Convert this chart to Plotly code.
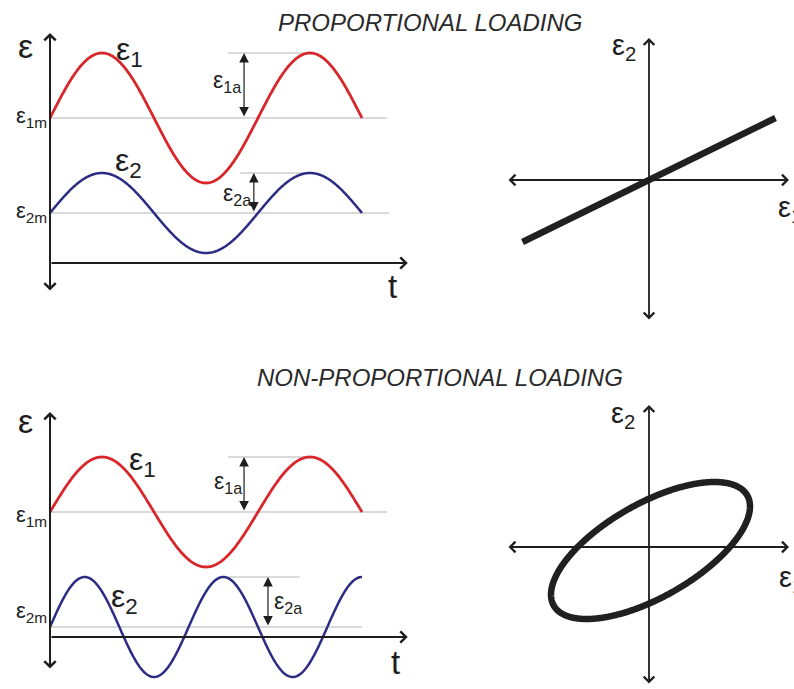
import numpy as np
import plotly.graph_objects as go

W, H = 794, 689

# ---- loading cases: mean / amplitude / frequency of the two strain signals ----
case_titles = ["PROPORTIONAL LOADING", "NON-PROPORTIONAL LOADING"]
eps1_mean = [2.9, 2.5]
eps1_amp = [1.3, 1.1]
eps2_mean = [1.0, 0.2]
eps2_amp = [0.8, 1.0]
eps2_freq = [1.0, 1.5]          # cycles of ε2 per cycle of ε1
eps1_cycles = 1.5               # number of ε1 cycles drawn

# ---- strain paths in the ε1-ε2 plane ----
prop_path_e1 = [-2.53, 2.53]
prop_path_e2 = [-1.24, 1.24]
ell_amp = [1.99, 1.37]          # half-ranges of ε1 and ε2
ell_phase_deg = 50              # phase lag between ε1 and ε2
ell_center = [0.03, -0.07]

# ---- colours / fonts ----
RED = "#d8262a"
BLUE = "#2c2c84"
INK = "#1e1e1e"
GRID = "#b4b4b4"
FONT = "Liberation Sans, Arial, sans-serif"

T_PX = 208.0    # pixels per ε1 cycle
E_PX = 50.0     # pixels per strain unit


def xdom(p0, p1):
    return [p0 / W, p1 / W]


def ydom(top, bottom):
    return [1 - bottom / H, 1 - top / H]


fig = go.Figure()

# panel boxes (pixels) and data origins
left_x_box = (0, 420)
left_t0_px = 50
left_boxes = [(28, 298, 263), (395, 689, 637)]       # top, bottom, origin row
right_x_box = (480, 794)
right_origin_x = 649
right_boxes = [(30, 330, 180), (395, 689, 547)]

layout_axes = {}
for i in range(2):
    # time-history panel
    xa = "xaxis" if i == 0 else "xaxis3"
    ya = "yaxis" if i == 0 else "yaxis3"
    top, bot, org = left_boxes[i]
    layout_axes[xa] = dict(domain=xdom(*left_x_box),
                           range=[(left_x_box[0] - left_t0_px) / T_PX,
                                  (left_x_box[1] - left_t0_px) / T_PX],
                           visible=False, fixedrange=True)
    layout_axes[ya] = dict(domain=ydom(top, bot),
                           range=[(org - bot) / E_PX, (org - top) / E_PX],
                           visible=False, fixedrange=True)
    # strain-path panel
    xa = "xaxis2" if i == 0 else "xaxis4"
    ya = "yaxis2" if i == 0 else "yaxis4"
    top, bot, org = right_boxes[i]
    layout_axes[xa] = dict(domain=xdom(*right_x_box),
                           range=[(right_x_box[0] - right_origin_x) / E_PX,
                                  (right_x_box[1] - right_origin_x) / E_PX],
                           visible=False, fixedrange=True)
    layout_axes[ya] = dict(domain=ydom(top, bot),
                           range=[(org - bot) / E_PX, (org - top) / E_PX],
                           visible=False, fixedrange=True)

# extents of the grey reference lines and positions of the amplitude markers
ref_extents = [
    dict(m1_end=1.62, a1=(0.856, 1.25), m2_end=1.63, a2=(0.913, 1.255), arr1=0.933, arr2=0.98),
    dict(m1_end=1.62, a1=(0.856, 1.25), m2_end=1.50, a2=(0.833, 1.20), arr1=0.933, arr2=1.048),
]
axis_extents = [(4.6, -0.58), (4.5, -0.66)]

annotations = []


def line(x, y, xr, yr, color, width):
    fig.add_trace(go.Scatter(x=x, y=y, xaxis=xr, yaxis=yr, mode="lines",
                             line=dict(color=color, width=width, simplify=False),
                             hoverinfo="skip", showlegend=False))


def arrow(xr, yr, x0, y0, x1, y1, head, side="end", width=2.0, size=1.0, color=INK):
    annotations.append(dict(x=x1, y=y1, ax=x0, ay=y0, xref=xr, yref=yr,
                            axref=xr, ayref=yr, text="", showarrow=True,
                            arrowhead=head, startarrowhead=head, arrowside=side,
                            arrowwidth=width, arrowsize=size, startarrowsize=size,
                            arrowcolor=color, standoff=0, startstandoff=0,
                            font=dict(size=1)))


def label(text, xr, yr, x, y, size, xanchor="center", color=INK):
    annotations.append(dict(x=x, y=y, xref=xr, yref=yr, text=text, showarrow=False,
                            xanchor=xanchor, yanchor="middle",
                            font=dict(family=FONT, size=size, color=color)))


t = np.linspace(0, eps1_cycles, 400)

# label positions in each time-history panel (t, ε)
left_labels = [
    dict(big=(-0.12, 4.34), e1=(0.31, 4.24), e1a=(0.775, 3.64), e1m=(2.92,),
         e2=(0.305, 2.02), e2a=(0.823, 1.38), e2m=(1.02,), t=(1.649, -0.46)),
    dict(big=(-0.12, 4.32), e1=(0.37, 3.52), e1a=(0.78, 3.10), e1m=(2.42,),
         e2=(0.283, 0.78), e2a=(1.065, 0.70), e2m=(0.50,), t=(1.659, -0.50)),
]
right_labels = [
    dict(e2=(-0.5, 2.66), e1=(2.54, -0.58)),
    dict(e2=(-0.52, 2.64), e1=(2.56, -0.64)),
]

for i in range(2):
    xr, yr = ("x", "y") if i == 0 else ("x3", "y3")
    ext = ref_extents[i]
    m1, a1 = eps1_mean[i], eps1_amp[i]
    m2, a2 = eps2_mean[i], eps2_amp[i]

    # thin grey reference lines for means and amplitudes
    line([0, ext["m1_end"]], [m1, m1], xr, yr, GRID, 1)
    line(list(ext["a1"]), [m1 + a1, m1 + a1], xr, yr, GRID, 1)
    line([0, ext["m2_end"]], [m2, m2], xr, yr, GRID, 1)
    line(list(ext["a2"]), [m2 + a2, m2 + a2], xr, yr, GRID, 1)

    # strain histories
    e1 = m1 + a1 * np.sin(2 * np.pi * t)
    e2 = m2 + a2 * np.sin(2 * np.pi * eps2_freq[i] * t)
    line(t, e1, xr, yr, RED, 2.8)
    line(t, e2, xr, yr, BLUE, 2.5)

    # ε and t axes
    ytop, ybot = axis_extents[i]
    arrow(xr, yr, 0, ybot, 0, ytop, head=4, side="end+start", width=2.0, size=1.1)
    arrow(xr, yr, 0, 0, 1.72, 0, head=4, width=2.0, size=1.1)

    # amplitude markers
    arrow(xr, yr, ext["arr1"], m1, ext["arr1"], m1 + a1, head=2, side="end+start",
          width=1.2, size=1.6)
    arrow(xr, yr, ext["arr2"], m2, ext["arr2"], m2 + a2, head=2, side="end+start",
          width=1.2, size=1.6)

    L = left_labels[i]
    label("ε", xr, yr, *L["big"], 34)
    label("ε<sub>1</sub>", xr, yr, *L["e1"], 32, "left")
    label("ε<sub>1a</sub>", xr, yr, *L["e1a"], 23, "left")
    label("ε<sub>1m</sub>", xr, yr, -0.005, L["e1m"][0], 22, "right")
    label("ε<sub>2</sub>", xr, yr, *L["e2"], 32, "left")
    label("ε<sub>2a</sub>", xr, yr, *L["e2a"], 23, "left")
    label("ε<sub>2m</sub>", xr, yr, -0.005, L["e2m"][0], 22, "right")
    label("t", xr, yr, *L["t"], 33)

# strain paths
theta = np.linspace(0, 2 * np.pi, 721)
phi = np.deg2rad(ell_phase_deg)
ell_e1 = ell_center[0] + ell_amp[0] * np.cos(theta)
ell_e2 = ell_center[1] + ell_amp[1] * np.cos(theta - phi)

line(prop_path_e1, prop_path_e2, "x2", "y2", "#202020", 6.5)
line(ell_e1, ell_e2, "x4", "y4", "#202020", 6.5)

for i in range(2):
    xr, yr = ("x2", "y2") if i == 0 else ("x4", "y4")
    vtop, vbot = (2.84, -2.82) if i == 0 else (2.84, -2.76)
    arrow(xr, yr, -2.84, 0, 2.80, 0, head=4, side="end+start", width=1.8, size=1.15)
    arrow(xr, yr, 0, vbot, 0, vtop, head=4, side="end+start", width=1.8, size=1.15)
    R = right_labels[i]
    label("ε<sub>2</sub>", xr, yr, *R["e2"], 29)
    label("ε<sub>1</sub>", xr, yr, *R["e1"], 29, "left")

# section titles
title_pos = [(430, 23), (440, 377)]
for txt, (px, py) in zip(case_titles, title_pos):
    annotations.append(dict(x=px / W, y=1 - py / H, xref="paper", yref="paper",
                            text=f"<i>{txt}</i>", showarrow=False,
                            xanchor="center", yanchor="middle",
                            font=dict(family=FONT, size=24, color="#2a2a2a")))

fig.update_layout(
    width=W, height=H,
    margin=dict(l=0, r=0, t=0, b=0),
    paper_bgcolor="white", plot_bgcolor="white",
    showlegend=False,
    annotations=annotations,
    **layout_axes,
)

fig.write_html("out.html", config={"displayModeBar": False})
